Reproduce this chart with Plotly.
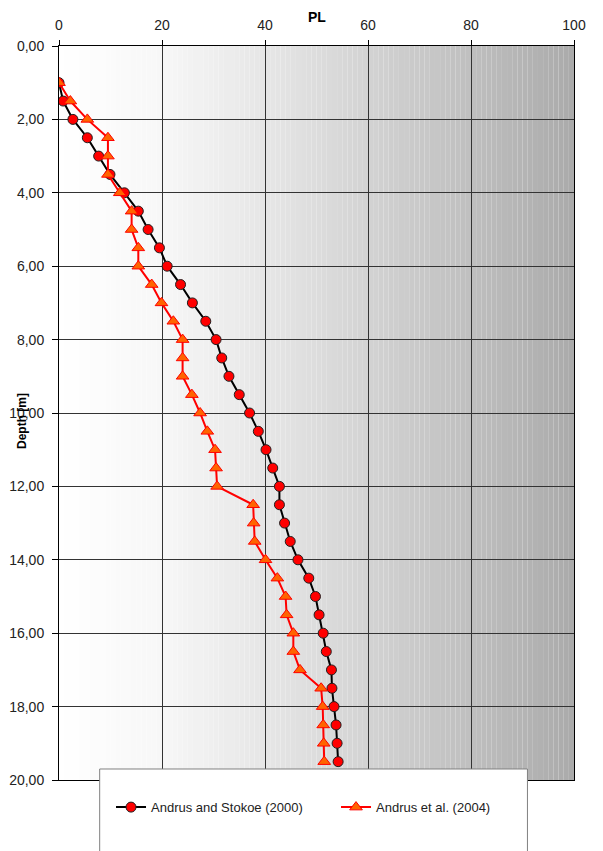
"""Liquefaction potential index (PL) versus depth, two Vs-based methods."""

import plotly.graph_objects as go

depth = [1.0, 1.5, 2.0, 2.5, 3.0, 3.5, 4.0, 4.5, 5.0, 5.5, 6.0, 6.5, 7.0, 7.5,
         8.0, 8.5, 9.0, 9.5, 10.0, 10.5, 11.0, 11.5, 12.0, 12.5, 13.0, 13.5,
         14.0, 14.5, 15.0, 15.5, 16.0, 16.5, 17.0, 17.5, 18.0, 18.5, 19.0, 19.5]

pl_andrus_stokoe_2000 = [0.0, 0.8, 2.7, 5.5, 7.7, 9.9, 12.7, 15.4, 17.3, 19.5,
                         21.0, 23.6, 25.9, 28.5, 30.5, 31.6, 33.0, 35.0, 37.0,
                         38.7, 40.2, 41.5, 42.8, 42.8, 43.8, 44.9, 46.4, 48.5,
                         49.8, 50.5, 51.3, 51.9, 52.9, 53.0, 53.4, 53.8, 54.0,
                         54.2]

pl_andrus_2004 = [0.0, 2.2, 5.5, 9.5, 9.5, 9.5, 11.8, 14.1, 14.1, 15.4, 15.4,
                  18.0, 19.9, 22.2, 24.0, 24.0, 24.0, 25.8, 27.4, 28.8, 30.3,
                  30.5, 30.7, 37.7, 37.8, 38.0, 40.1, 42.4, 44.0, 44.2, 45.5,
                  45.5, 46.8, 50.9, 51.2, 51.3, 51.4, 51.5]

x_ticks = [0, 20, 40, 60, 80, 100]
y_ticks = [0, 2, 4, 6, 8, 10, 12, 14, 16, 18, 20]

FONT = "Liberation Sans, Arial, sans-serif"
GRID = "#333333"

# grey ramp of the plot background (left -> right)
_RAMP = [(0, 255), (20, 247), (40, 230), (60, 211), (80, 191), (100, 170)]


def _grey(x):
    for (x0, g0), (x1, g1) in zip(_RAMP, _RAMP[1:]):
        if x0 <= x <= x1:
            g = round(g0 + (g1 - g0) * (x - x0) / (x1 - x0))
            return f"rgb({g},{g},{g})"
    return "rgb(170,170,170)"


shapes = []
for i in range(100):
    shapes.append(dict(type="rect", xref="x", yref="paper", x0=i, x1=i + 1,
                       y0=0, y1=1, layer="below", line_width=0,
                       fillcolor=_grey(i + 0.5)))

# white legend panel overlapping the bottom of the plot
shapes.append(dict(type="rect", xref="paper", yref="paper",
                   x0=0.079, x1=0.9096, y0=-0.2, y1=0.015, layer="above",
                   fillcolor="white", line=dict(color="#808080", width=1)))

fig = go.Figure()
fig.add_trace(go.Scatter(
    x=pl_andrus_stokoe_2000, y=depth, mode="lines+markers",
    name="Andrus and Stokoe (2000)",
    line=dict(color="black", width=2),
    marker=dict(symbol="circle", size=10, color="#ff0000",
                line=dict(color="#202020", width=1))))
fig.add_trace(go.Scatter(
    x=pl_andrus_2004, y=depth, mode="lines+markers",
    name="Andrus et al. (2004)",
    line=dict(color="#ff0000", width=2),
    marker=dict(symbol="triangle-up", size=11, color="#ff6400",
                line=dict(color="#ff0000", width=1))))

fig.update_layout(
    width=603, height=851,
    margin=dict(l=51, r=37, t=38, b=79),
    paper_bgcolor="white", plot_bgcolor="white",
    font=dict(family=FONT, size=14, color="#222222"),
    separators=",.",
    shapes=shapes,
    showlegend=True,
    legend=dict(orientation="h", x=0.101, xanchor="left", y=-0.037,
                yanchor="middle", bgcolor="rgba(0,0,0,0)",
                font=dict(family=FONT, size=13, color="#222222"),
                entrywidth=180, itemwidth=30),
    annotations=[
        dict(text="<b>PL</b>", xref="paper", yref="paper", x=0.5, y=1,
             yanchor="middle", yshift=29, showarrow=False,
             font=dict(size=14, color="black")),
        dict(text="<b>Depth [m]</b>", xref="paper", yref="paper", x=0,
             xanchor="center", yanchor="middle", xshift=-37, y=0.5,
             yshift=-8, textangle=-90, showarrow=False,
             font=dict(size=12, color="black")),
    ],
)
fig.update_xaxes(side="top", range=[0, 100], tickvals=x_ticks,
                 showgrid=True, gridcolor=GRID, gridwidth=1,
                 showline=True, linecolor="black", linewidth=1, mirror=True,
                 ticks="outside", ticklen=5, tickcolor="black",
                 ticklabelstandoff=4, zeroline=False, automargin=False)
fig.update_yaxes(range=[20, 0], tickvals=y_ticks, tickformat=".2f",
                 showgrid=True, gridcolor=GRID, gridwidth=1,
                 showline=True, linecolor="black", linewidth=1, mirror=True,
                 ticks="outside", ticklen=6, tickcolor="black",
                 ticklabelstandoff=5, zeroline=False, automargin=False)

fig.write_html("out.html")
